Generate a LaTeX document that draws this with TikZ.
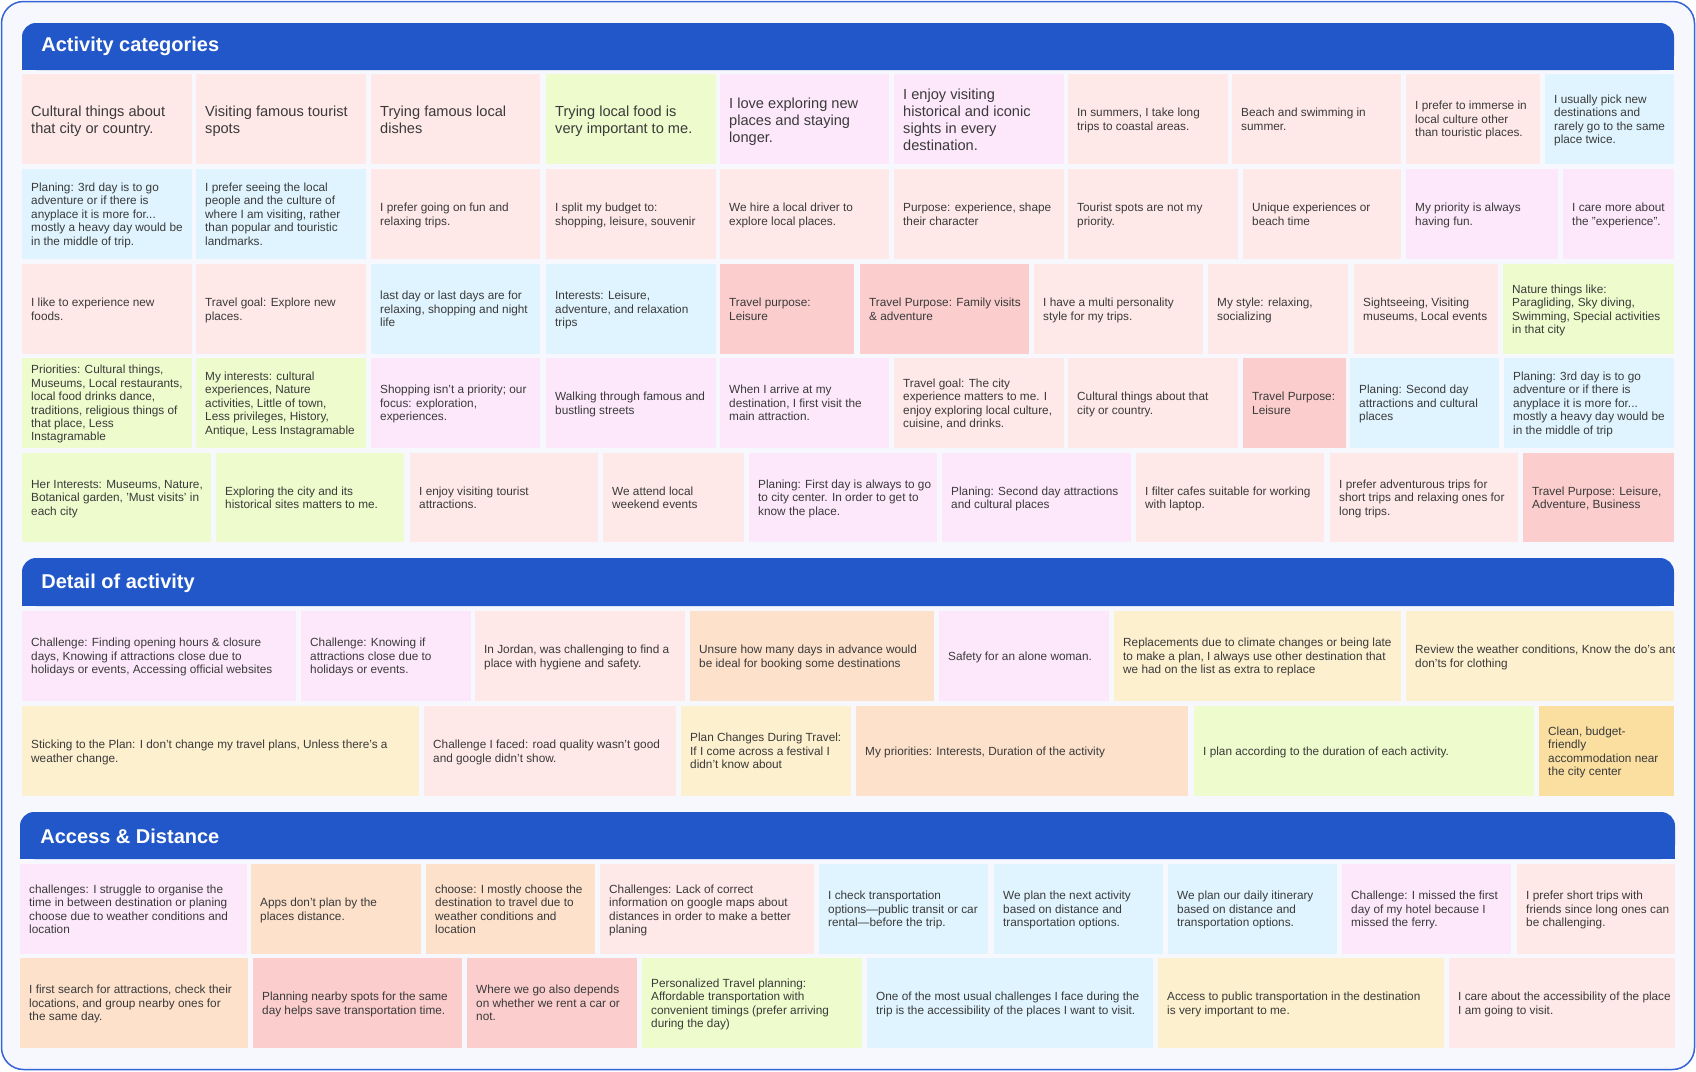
\documentclass[tikz,border=0pt]{standalone}
\usepackage{fontspec}
\setmainfont{Liberation Sans}
\definecolor{bg}{HTML}{F6F8FD}
\definecolor{frameblue}{HTML}{3464D8}
\definecolor{barblue}{HTML}{2257C9}
\definecolor{ink}{HTML}{3A3A3A}
\definecolor{cpink}{HTML}{FFE8E8}
\definecolor{crose}{HTML}{FBCDCD}
\definecolor{clilac}{HTML}{FDE8FB}
\definecolor{cblue}{HTML}{DFF4FE}
\definecolor{cgreen}{HTML}{EEFBCC}
\definecolor{cpeach}{HTML}{FDE1CB}
\definecolor{ccream}{HTML}{FDF0CE}
\definecolor{cgold}{HTML}{FADFA0}
\tikzstyle{note} = [anchor=north west, inner sep=0pt, minimum height=44.75pt, text=ink, font={\fontsize{5.9}{6.7}\selectfont\def\drop{0.75pt}}]
\tikzstyle{big} = [font={\fontsize{7.3}{8.5}\selectfont\def\drop{1.35pt}}]
\tikzstyle{pink} = [fill=cpink]
\tikzstyle{rose} = [fill=crose]
\tikzstyle{lilac} = [fill=clilac]
\tikzstyle{blue} = [fill=cblue]
\tikzstyle{green} = [fill=cgreen]
\tikzstyle{peach} = [fill=cpeach]
\tikzstyle{cream} = [fill=ccream]
\tikzstyle{gold} = [fill=cgold]
\tikzstyle{header} = [anchor=west, inner sep=0pt, text=white, font=\fontsize{10}{12}\selectfont\bfseries]
\tikzstyle{bar} = [fill=barblue]
% nota: nombre, estilo, x izquierda, x derecha, y arriba, texto
\newcommand{\nota}[6]{%
  \pgfmathsetmacro{\ancho}{(#4-#3)*0.5}%
  \node (#1) [note, #2, minimum width=\ancho pt] at (#3,#5)
    {\makebox[\ancho pt][l]{\hspace*{4.4pt}\raisebox{-\drop}[\height][\depth]{\begin{tabular}{@{}l@{}}#6\end{tabular}}}};%
}

\begin{document}
\begin{tikzpicture}[x=0.5pt, y=-0.5pt]
\useasboundingbox (0,0) rectangle (1696,1071);
\draw [frameblue, fill=bg, line width=0.75pt, rounded corners=11pt] (1.5,1.5) rectangle (1694.5,1069.5);

%% Activity categories
\fill [bar, rounded corners=7pt] (22,23) rectangle (1674,70);
\fill [bar] (22,50) rectangle (1674,70);
\node (cat) [header] at (41,46) {Activity categories};

\nota{act1}{pink, big}{22}{192}{74}{Cultural things about\\that city or country.}
\nota{act2}{pink, big}{196}{366}{74}{Visiting famous tourist\\spots}
\nota{act3}{pink, big}{371}{540}{74}{Trying famous local\\dishes}
\nota{act4}{green, big}{546}{716}{74}{Trying local food is\\very important to me.}
\nota{act5}{lilac, big}{720}{889}{74}{I love exploring new\\places and staying\\longer.}
\nota{act6}{lilac, big}{894}{1064}{74}{I enjoy visiting\\historical and iconic\\sights in every\\destination.}
\nota{act7}{pink}{1068}{1228}{74}{In summers, I take long\\trips to coastal areas.}
\nota{act8}{pink}{1232}{1401}{74}{Beach and swimming in\\summer.}
\nota{act9}{pink}{1406}{1540}{74}{I prefer to immerse in\\local culture other\\than touristic places.}
\nota{act10}{blue}{1545}{1674}{74}{I usually pick new\\destinations and\\rarely go to the same\\place twice.}

\nota{act11}{blue}{22}{192}{169}{Planing: 3rd day is to go\\adventure or if there is\\anyplace it is more for...\\mostly a heavy day would be\\in the middle of trip.}
\nota{act12}{blue}{196}{366}{169}{I prefer seeing the local\\people and the culture of\\where I am visiting, rather\\than popular and touristic\\landmarks.}
\nota{act13}{pink}{371}{540}{169}{I prefer going on fun and\\relaxing trips.}
\nota{act14}{pink}{546}{716}{169}{I split my budget to:\\shopping, leisure, souvenir}
\nota{act15}{pink}{720}{889}{169}{We hire a local driver to\\explore local places.}
\nota{act16}{pink}{894}{1064}{169}{Purpose: experience, shape\\their character}
\nota{act17}{pink}{1068}{1238}{169}{Tourist spots are not my\\priority.}
\nota{act18}{pink}{1243}{1401}{169}{Unique experiences or\\beach time}
\nota{act19}{lilac}{1406}{1558}{169}{My priority is always\\having fun.}
\nota{act20}{lilac}{1563}{1674}{169}{I care more about\\the "experience".}

\nota{act21}{pink}{22}{192}{264}{I like to experience new\\foods.}
\nota{act22}{pink}{196}{366}{264}{Travel goal: Explore new\\places.}
\nota{act23}{blue}{371}{540}{264}{last day or last days are for\\relaxing, shopping and night\\life}
\nota{act24}{blue}{546}{716}{264}{Interests: Leisure,\\adventure, and relaxation\\trips}
\nota{act25}{rose}{720}{854}{264}{Travel purpose:\\Leisure}
\nota{act26}{rose}{860}{1029}{264}{Travel Purpose: Family visits\\\& adventure}
\nota{act27}{pink}{1034}{1203}{264}{I have a multi personality\\style for my trips.}
\nota{act28}{pink}{1208}{1348}{264}{My style: relaxing,\\socializing}
\nota{act29}{pink}{1354}{1498}{264}{Sightseeing, Visiting\\museums, Local events}
\nota{act30}{green}{1503}{1674}{264}{Nature things like:\\Paragliding, Sky diving,\\Swimming, Special activities\\in that city}

\nota{act31}{green}{22}{192}{358}{Priorities: Cultural things,\\Museums, Local restaurants,\\local food drinks dance,\\traditions, religious things of\\that place, Less\\Instagramable}
\nota{act32}{green}{196}{366}{358}{My interests: cultural\\experiences, Nature\\activities, Little of town,\\Less privileges, History,\\Antique, Less Instagramable}
\nota{act33}{lilac}{371}{540}{358}{Shopping isn't a priority; our\\focus: exploration,\\experiences.}
\nota{act34}{lilac}{546}{716}{358}{Walking through famous and\\bustling streets}
\nota{act35}{lilac}{720}{889}{358}{When I arrive at my\\destination, I first visit the\\main attraction.}
\nota{act36}{pink}{894}{1064}{358}{Travel goal: The city\\experience matters to me. I\\enjoy exploring local culture,\\cuisine, and drinks.}
\nota{act37}{pink}{1068}{1238}{358}{Cultural things about that\\city or country.}
\nota{act38}{rose}{1243}{1346}{358}{Travel Purpose:\\Leisure}
\nota{act39}{blue}{1350}{1499}{358}{Planing: Second day\\attractions and cultural\\places}
\nota{act40}{blue}{1504}{1674}{358}{Planing: 3rd day is to go\\adventure or if there is\\anyplace it is more for...\\mostly a heavy day would be\\in the middle of trip}

\nota{act41}{green}{22}{211}{452.5}{Her Interests: Museums, Nature,\\Botanical garden, 'Must visits' in\\each city}
\nota{act42}{green}{216}{404}{452.5}{Exploring the city and its\\historical sites matters to me.}
\nota{act43}{pink}{410}{598}{452.5}{I enjoy visiting tourist\\attractions.}
\nota{act44}{pink}{603}{744}{452.5}{We attend local\\weekend events}
\nota{act45}{lilac}{749}{937}{452.5}{Planing: First day is always to go\\to city center. In order to get to\\know the place.}
\nota{act46}{lilac}{942}{1131}{452.5}{Planing: Second day attractions\\and cultural places}
\nota{act47}{pink}{1136}{1324}{452.5}{I filter cafes suitable for working\\with laptop.}
\nota{act48}{pink}{1330}{1518}{452.5}{I prefer adventurous trips for\\short trips and relaxing ones for\\long trips.}
\nota{act49}{rose}{1523}{1674}{452.5}{Travel Purpose: Leisure,\\Adventure, Business}

%% Detail of activity
\fill [bar, rounded corners=7pt] (22,558) rectangle (1674,606);
\fill [bar] (22,585) rectangle (1674,606);
\node (det) [header] at (41,583) {Detail of activity};

\nota{det1}{lilac}{22}{296}{611}{Challenge: Finding opening hours \& closure\\days, Knowing if attractions close due to\\holidays or events, Accessing official websites}
\nota{det2}{lilac}{301}{471}{611}{Challenge: Knowing if\\attractions close due to\\holidays or events.}
\nota{det3}{pink}{475}{685}{611}{In Jordan, was challenging to find a\\place with hygiene and safety.}
\nota{det4}{peach}{690}{934}{611}{Unsure how many days in advance would\\be ideal for booking some destinations}
\nota{det5}{lilac}{939}{1109}{611}{Safety for an alone woman.}
\nota{det6}{cream}{1114}{1401}{611}{Replacements due to climate changes or being late\\to make a plan, I always use other destination that\\we had on the list as extra to replace}
\begin{scope}
\clip (1406,611) rectangle (1674,700.5);
\nota{det7}{cream}{1406}{1674}{611}{Review the weather conditions, Know the do's and\\don'ts for clothing}
\end{scope}

\nota{det8}{cream}{22}{419}{706}{Sticking to the Plan: I don't change my travel plans, Unless there's a\\weather change.}
\nota{det9}{pink}{424}{676}{706}{Challenge I faced: road quality wasn't good\\and google didn't show.}
\nota{det10}{cream}{681}{851}{706}{Plan Changes During Travel:\\If I come across a festival I\\didn't know about}
\nota{det11}{peach}{856}{1188}{706}{My priorities: Interests, Duration of the activity}
\nota{det12}{green}{1194}{1534}{706}{I plan according to the duration of each activity.}
\nota{det13}{gold}{1539}{1674}{706}{Clean, budget-\\friendly\\accommodation near\\the city center}

%% Access & Distance
\fill [bar, rounded corners=7pt] (20,812) rectangle (1675,859);
\fill [bar] (20,838) rectangle (1675,859);
\node (acc) [header] at (40,836.5) {Access \& Distance};

\nota{acc1}{lilac}{20}{247}{864}{challenges: I struggle to organise the\\time in between destination or planing\\choose due to weather conditions and\\location}
\nota{acc2}{peach}{251}{421}{864}{Apps don't plan by the\\places distance.}
\nota{acc3}{peach}{426}{595}{864}{choose: I mostly choose the\\destination to travel due to\\weather conditions and\\location}
\nota{acc4}{pink}{600}{814}{864}{Challenges: Lack of correct\\information on google maps about\\distances in order to make a better\\planing}
\nota{acc5}{blue}{819}{988}{864}{I check transportation\\options—public transit or car\\rental—before the trip.}
\nota{acc6}{blue}{994}{1163}{864}{We plan the next activity\\based on distance and\\transportation options.}
\nota{acc7}{blue}{1168}{1337}{864}{We plan our daily itinerary\\based on distance and\\transportation options.}
\nota{acc8}{lilac}{1342}{1511}{864}{Challenge: I missed the first\\day of my hotel because I\\missed the ferry.}
\nota{acc9}{pink}{1517}{1675}{864}{I prefer short trips with\\friends since long ones can\\be challenging.}

\nota{acc10}{peach}{20}{248}{958}{I first search for attractions, check their\\locations, and group nearby ones for\\the same day.}
\nota{acc11}{rose}{253}{462}{958}{Planning nearby spots for the same\\day helps save transportation time.}
\nota{acc12}{rose}{467}{637}{958}{Where we go also depends\\on whether we rent a car or\\not.}
\nota{acc13}{green}{642}{862}{958}{Personalized Travel planning:\\Affordable transportation with\\convenient timings (prefer arriving\\during the day)}
\nota{acc14}{blue}{867}{1153}{958}{One of the most usual challenges I face during the\\trip is the accessibility of the places I want to visit.}
\nota{acc15}{cream}{1158}{1444}{958}{Access to public transportation in the destination\\is very important to me.}
\begin{scope}
\clip (1449,958) rectangle (1675,1047.5);
\nota{acc16}{pink}{1449}{1675}{958}{I care about the accessibility of the place\\I am going to visit.}
\end{scope}

\end{tikzpicture}
\end{document}
